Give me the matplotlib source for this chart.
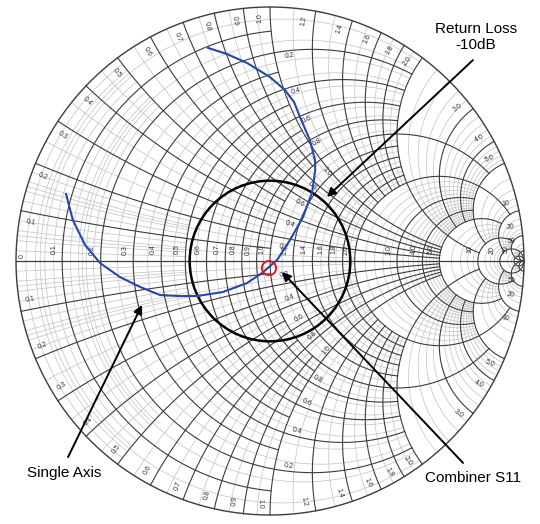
import numpy as np
import matplotlib.pyplot as plt
from matplotlib.patches import Circle

plt.rcParams['font.family'] = ['Liberation Sans', 'DejaVu Sans']

# ---- grid values (impedance Smith chart) ----
major_values = [0.1, 0.2, 0.3, 0.4, 0.5, 0.6, 0.7, 0.8, 0.9, 1.0,
                1.2, 1.4, 1.6, 1.8, 2.0, 3.0, 4.0, 5.0, 10, 20, 50]
major_labels = ['0.1', '0.2', '0.3', '0.4', '0.5', '0.6', '0.7', '0.8', '0.9', '1.0',
                '1.2', '1.4', '1.6', '1.8', '2.0', '3.0', '4.0', '5.0', '10', '20', '50']
# limit (in the other coordinate) up to which each major line is drawn
r_major_limits = [1, 2, 1, 2, 1, 2, 1, 2, 1, 5,
                  2, 2, 2, 2, 10, 5, 5, 10, 20, np.inf, np.inf]
x_major_limits = [1, 5, 1, 5, 1, 5, 1, 5, 1, 5,
                  2, 2, 2, 2, 10, 5, 5, 10, 20, np.inf, np.inf]

minor_values = [[0.02, 0.04, 0.06, 0.08, 0.12, 0.14, 0.16, 0.18],
                [0.05, 0.15],
                [0.25, 0.35, 0.45, 0.55, 0.65, 0.75, 0.85, 0.95],
                [1.1, 1.3, 1.5, 1.7, 1.9],
                [2.2, 2.4, 2.6, 2.8, 3.2, 3.4, 3.6, 3.8, 4.2, 4.4, 4.6, 4.8],
                [6, 7, 8, 9],
                [12, 14, 16, 18],
                [30, 40]]
minor_limits = [0.5, 2, 2, 2, 5, 10, 20, 50]

# labels along the r=1 circle (reactance) and along x=+-1 arcs (resistance)
inner_values = [0.2, 0.4, 0.6, 0.8, 1.0]
inner_labels = ['0.2', '0.4', '0.6', '0.8', '1.0']

# ---- traces (reflection coefficient, real / imag) ----
single_axis_re = [-0.244, -0.170, -0.091, 0.0, 0.059, 0.095, 0.118, 0.157, 0.177, 0.178,
                  0.173, 0.165, 0.130, 0.079, 0.028, -0.031, -0.091, -0.185, -0.287,
                  -0.354, -0.433, -0.512, -0.591, -0.669, -0.728, -0.776, -0.803]
single_axis_im = [0.839, 0.815, 0.780, 0.724, 0.673, 0.625, 0.567, 0.476, 0.398, 0.360,
                  0.319, 0.268, 0.173, 0.083, 0.004, -0.047, -0.087, -0.122, -0.138,
                  -0.138, -0.134, -0.102, -0.063, -0.008, 0.063, 0.161, 0.264]
combiner_s11 = (-0.004, -0.028)
return_loss_db = -10

MAJOR_C = '#3c3c3c'
MINOR_C = '#c6c6c6'
LABEL_C = '#2a2f45'


def gamma(z):
    return (z - 1) / (z + 1)


def r_circle(ax, r, xmax, **kw):
    t = np.linspace(-np.arctan(xmax), np.arctan(xmax), 600)
    g = gamma(r + 1j * np.tan(t))
    ax.plot(g.real, g.imag, **kw)


def x_arc(ax, x, rmax, **kw):
    t = np.linspace(0, np.arctan(rmax), 600)
    g = gamma(np.tan(t) + 1j * x)
    ax.plot(g.real, g.imag, **kw)


def norm_rot(a):
    a = (a + 180) % 360 - 180
    if a > 90:
        a -= 180
    if a < -90:
        a += 180
    return a


fig = plt.figure(figsize=(5.4, 5.24), dpi=100)
ax = fig.add_axes([0, 0, 1, 1])
R = 254.0
ax.set_xlim(-270 / R, 270 / R)
ax.set_ylim(-(524 - 261) / R, 261 / R)
ax.axis('off')

# minor grid
for vals, lim in zip(minor_values, minor_limits):
    for v in vals:
        r_circle(ax, v, lim, color=MINOR_C, lw=0.55, zorder=1)
        x_arc(ax, v, lim, color=MINOR_C, lw=0.55, zorder=1)
        x_arc(ax, -v, lim, color=MINOR_C, lw=0.55, zorder=1)

# major grid
for v, rlim, xlim in zip(major_values, r_major_limits, x_major_limits):
    r_circle(ax, v, rlim, color=MAJOR_C, lw=0.8, zorder=2)
    x_arc(ax, v, xlim, color=MAJOR_C, lw=0.8, zorder=2)
    x_arc(ax, -v, xlim, color=MAJOR_C, lw=0.8, zorder=2)
r_circle(ax, 0.0, np.inf, color=MAJOR_C, lw=1.0, zorder=2)
ax.plot([-1, 1], [0, 0], color=MAJOR_C, lw=0.9, zorder=2)

lab = dict(fontsize=5, color=LABEL_C, ha='center', va='center', zorder=4)

# labels on the real axis
ax.text(-0.975, 0.018, '0', rotation=90, **lab)
for v, s in zip(major_values, major_labels):
    g = gamma(v)
    ax.text(g - 0.032, 0.045, s, rotation=90, **lab)

# labels along the rim
for v, s in zip(major_values, major_labels):
    th = np.angle(gamma(1j * v))
    for sign in (1, -1):
        a = sign * th + sign * 0.04
        ax.text(0.955 * np.cos(a), 0.955 * np.sin(a), s,
                rotation=norm_rot(np.degrees(sign * th)), **lab)

# labels on r=1 circle and x=+-1 arcs
for v, s in zip(inner_values, inner_labels):
    for sign in (1, -1):
        z = 1.06 + 1j * sign * (v - 0.04)
        g = gamma(z)
        rot = norm_rot(np.degrees(np.angle(2 / (z + 1) ** 2)))
        ax.text(g.real + 0.02, g.imag - sign * 0.02, s, rotation=rot, **lab)
        if v < 1.0:
            z = v + 1j * sign * 1.06
            g = gamma(z)
            rot = norm_rot(np.degrees(np.angle(2j / (z + 1) ** 2)))
            ax.text(g.real + 0.012, g.imag - sign * 0.02, s, rotation=rot, **lab)

# return loss circle
rl = 10 ** (return_loss_db / 20)
ax.add_patch(Circle((0, 0), rl, fill=False, color='black', lw=1.8, zorder=5))

# single axis trace
ax.plot(single_axis_re, single_axis_im, color='#2548a8', lw=1.5, zorder=6)

# combiner S11 marker
ax.add_patch(Circle(combiner_s11, 0.028, fill=False, color='#e8141c', lw=1.4, zorder=7))

arrow = dict(arrowstyle='-|>', color='black', lw=1.4, mutation_scale=13,
             shrinkA=0, shrinkB=0)
ax.annotate('', xy=(0.224, 0.252), xytext=(0.799, 0.791), arrowprops=arrow, zorder=8)
ax.annotate('', xy=(0.047, -0.043), xytext=(0.760, -0.795), arrowprops=arrow, zorder=8)
ax.annotate('', xy=(-0.504, -0.173), xytext=(-0.795, -0.772), arrowprops=arrow, zorder=8)

txt = dict(fontsize=11, color='black', ha='center', va='center', zorder=9)
ax.text(0.811, 0.882, 'Return Loss\n-10dB', linespacing=1.15, **txt)
ax.text(0.799, -0.854, 'Combiner S11', **txt)
ax.text(-0.811, -0.835, 'Single Axis', **txt)

plt.savefig('out.png', dpi=100)
plt.close()
